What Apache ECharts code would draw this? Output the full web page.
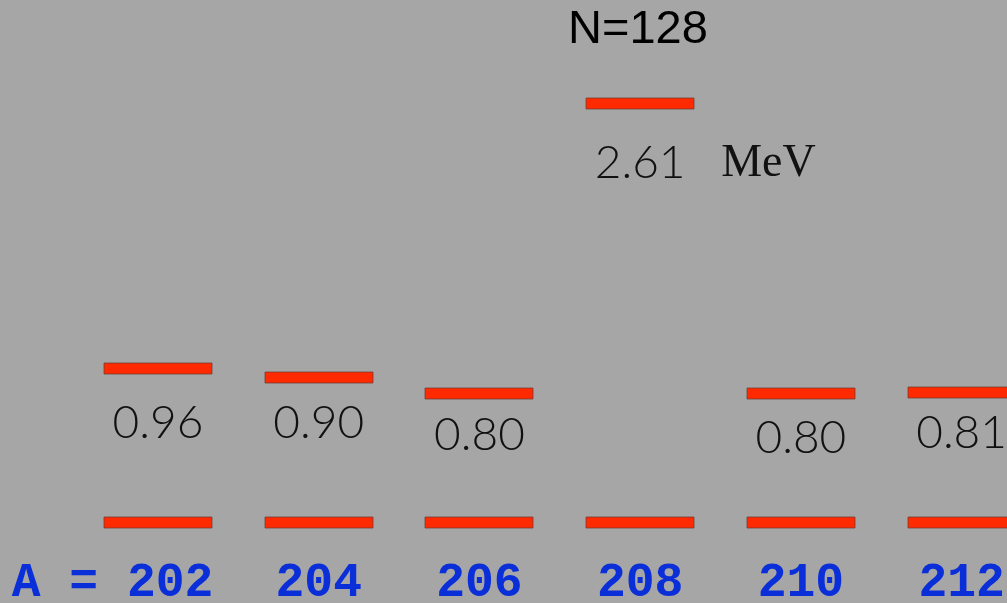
<!DOCTYPE html>
<html>
<head>
<meta charset="utf-8">
<script src="https://cdn.jsdelivr.net/npm/echarts@6/dist/echarts.min.js"></script>
<style>
html,body{margin:0;padding:0;background:#a6a6a6;}
#chart{width:1007px;height:603px;}
</style>
</head>
<body>
<div id="chart"></div>
<script>
// Mass numbers of the nuclei (isotopes shown)
const massNumbers = ['202', '204', '206', '208', '210', '212'];
// Ground-state energies (MeV)
const groundEnergy = [0, 0, 0, 0, 0, 0];
// First excited-state energies (MeV)
const excitedEnergy = [0.96, 0.90, 0.80, 2.61, 0.80, 0.81];
const titleText = 'N=128';
const axisPrefix = 'A = ';
const unitText = 'MeV';
const unitIndex = 3;

// label vertical nudges below each level (style only)
const labelDy = [55, 45, 41, 60, 44, 41];

const chart = echarts.init(document.getElementById('chart'));

const levelFill = '#ff2a00';
const levelStroke = 'rgba(110,60,50,0.75)';

function levelRender(withLabels) {
  return function (params, api) {
    const idx = params.dataIndex;
    const x = api.value(0), e = api.value(1);
    const p = api.coord([x, e]);
    const w = api.size([1, 0])[0] * 0.672;
    const h = 11;
    const children = [{
      type: 'rect',
      shape: { x: Math.round(p[0] - w / 2), y: Math.round(p[1] - h / 2), width: Math.round(w), height: h },
      style: { fill: levelFill, stroke: levelStroke, lineWidth: 1 }
    }];
    if (withLabels) {
      children.push({
        type: 'text',
        x: p[0], y: p[1] + labelDy[idx],
        style: {
          text: e.toFixed(2),
          fill: '#111',
          font: '300 46px Lato',
          align: 'center', verticalAlign: 'middle'
        }
      });
      if (idx === unitIndex) {
        children.push({
          type: 'text',
          x: p[0] + 81, y: p[1] + labelDy[idx],
          style: {
            text: unitText,
            fill: '#111',
            font: '46px "Liberation Serif"',
            align: 'left', verticalAlign: 'middle'
          }
        });
      }
    }
    return { type: 'group', children: children };
  };
}

chart.setOption({
  backgroundColor: '#a6a6a6',
  animation: false,
  title: {
    text: titleText,
    left: 568, top: 7,
    padding: 0,
    textStyle: { fontFamily: 'Liberation Sans', fontSize: 47, fontWeight: 'normal', color: '#000' }
  },
  grid: { left: 77.65, right: -34.95, top: 41, bottom: 81, outerBoundsMode: 'none', containLabel: false },
  xAxis: {
    type: 'category',
    data: massNumbers,
    axisLine: { show: false },
    axisTick: { show: false },
    splitLine: { show: false },
    axisLabel: {
      margin: 38,
      interval: 0,
      formatter: function (v, i) {
        return i === 0 ? '{a|' + axisPrefix + '}{v|' + v + '}{p|}' : '{v|' + v + '}';
      },
      rich: {
        a: { fontFamily: 'Liberation Mono', fontWeight: 'bold', fontSize: 48, color: '#0a2fd9', lineHeight: 48 },
        v: { fontFamily: 'Liberation Mono', fontWeight: 'bold', fontSize: 48, color: '#0a2fd9', lineHeight: 48 },
        p: { width: 91, lineHeight: 48 }
      }
    }
  },
  yAxis: {
    type: 'value', min: 0, max: 3, show: false,
    splitLine: { show: false }
  },
  series: [
    {
      type: 'custom',
      renderItem: levelRender(false),
      data: groundEnergy.map((e, i) => [i, e]),
      clip: false
    },
    {
      type: 'custom',
      renderItem: levelRender(true),
      data: excitedEnergy.map((e, i) => [i, e]),
      clip: false
    }
  ]
});
</script>
</body>
</html>
